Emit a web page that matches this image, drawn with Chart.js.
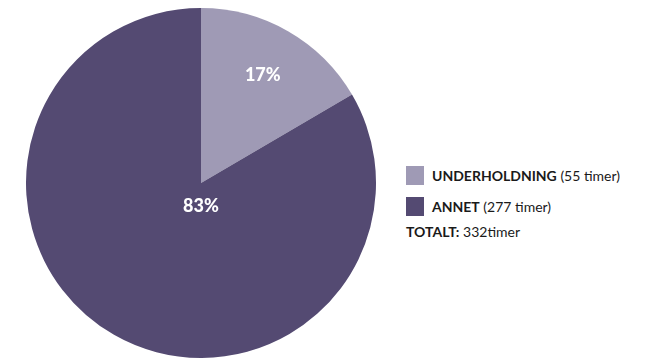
<!DOCTYPE html>
<html>
<head>
<meta charset="utf-8">
<script src="https://cdn.jsdelivr.net/npm/chart.js@4"></script>
<style>
  body { margin: 0; background: #fff; width: 659px; height: 358px; overflow: hidden; position: relative; font-family: Lato, "Open Sans", sans-serif; }
  #wrap { position: absolute; left: 26px; top: 8px; width: 350px; height: 350px; }
  #legend { position: absolute; left: 406px; top: 166px; font-size: 14px; color: #1a1a1a; }
  .row { display: flex; align-items: center; height: 19px; margin-bottom: 12px; }
  .sw { width: 18px; height: 19px; margin-right: 8px; }
  .total { margin-top: -5px; }
  b { font-weight: 700; }
</style>
</head>
<body>
<div id="wrap"><canvas id="pie" width="350" height="350"></canvas></div>
<div id="legend"></div>
<script>
// data
let labels = ['UNDERHOLDNING', 'ANNET']
let hours = [55, 277]
let colors = ['#9f9ab5', '#544a72']
let unit = 'timer'

let total = hours.reduce((a, b) => a + b, 0)

// legend in html
let leg = document.getElementById('legend')
let html = ''
for (let i = 0; i < labels.length; i++) {
    html += '<div class="row"><div class="sw" style="background:' + colors[i] + '"></div>'
        + '<span><b>' + labels[i] + '</b> (' + hours[i] + ' ' + unit + ')</span></div>'
}
html += '<div class="total"><b>TOTALT:</b> ' + total + unit + '</div>'
leg.innerHTML = html

// percentage labels inside slices
const pctLabels = {
    id: 'pctLabels',
    afterDatasetsDraw(chart) {
        let ctx = chart.ctx
        let meta = chart.getDatasetMeta(0)
        ctx.save()
        ctx.fillStyle = '#fff'
        ctx.font = '900 18px Lato'
        ctx.textAlign = 'center'
        ctx.textBaseline = 'middle'
        meta.data.forEach((arc, i) => {
            let pct = Math.round(hours[i] / total * 100) + '%'
            let x, y
            if (hours[i] / total < 0.5) {
                let mid = (arc.startAngle + arc.endAngle) / 2
                x = arc.x + Math.cos(mid) * arc.outerRadius * 0.71
                y = arc.y + Math.sin(mid) * arc.outerRadius * 0.71
            } else {
                x = arc.x
                y = arc.y + arc.outerRadius * 0.13
            }
            ctx.fillText(pct, x, y)
        })
        ctx.restore()
    }
}

const data = {
    labels: labels,
    datasets: [{
        data: hours,
        backgroundColor: colors,
        borderWidth: 0
    }]
}

const config = {
    type: 'pie',
    data: data,
    options: {
        responsive: false,
        animation: false,
        plugins: {
            legend: { display: false },
            tooltip: { enabled: false }
        }
    },
    plugins: [pctLabels]
}

let ctx = document.getElementById('pie').getContext('2d')
new Chart(ctx, config)
</script>
</body>
</html>
